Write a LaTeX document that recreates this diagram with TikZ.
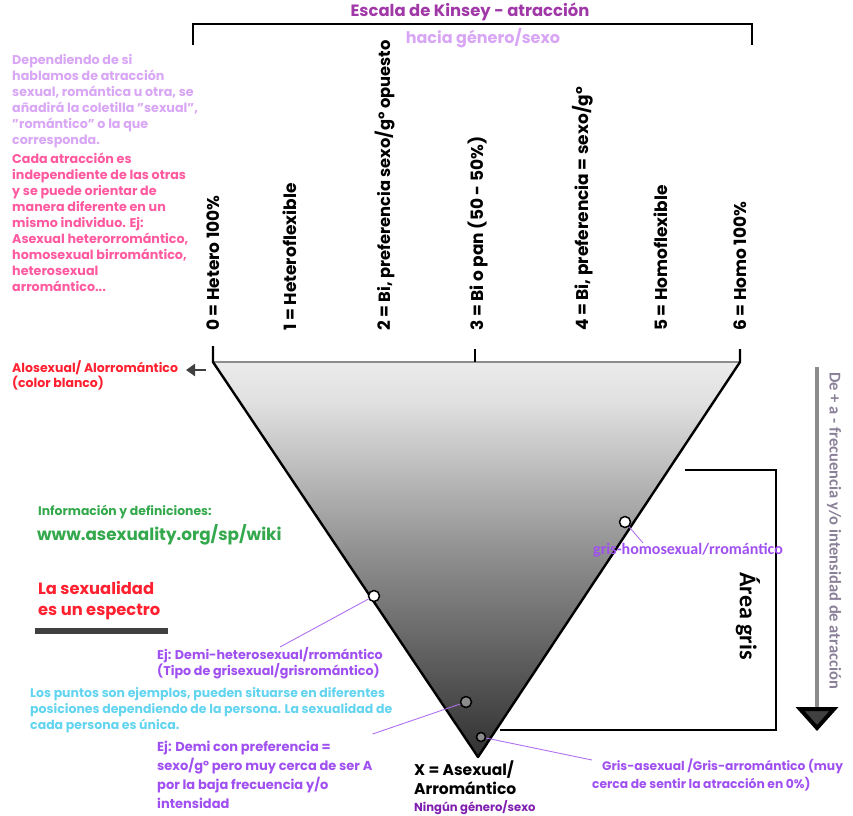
\documentclass[tikz,border=0pt]{standalone}
\usepackage{fontspec}
\setmainfont{Poppins}
\newfontfamily\calib{Carlito}
\usetikzlibrary{arrows.meta}
\definecolor{titlecol}{HTML}{A038A8}
\definecolor{lilac}{HTML}{D8A6F4}
\definecolor{pinkcol}{HTML}{FF5AA0}
\definecolor{greencol}{HTML}{34A84C}
\definecolor{redcol}{HTML}{FF2030}
\definecolor{cyancol}{HTML}{62D4F0}
\definecolor{violet}{HTML}{A050F0}
\definecolor{deepviolet}{HTML}{8020B0}
\definecolor{conncol}{HTML}{B070F0}
\definecolor{arrowtext}{HTML}{8A8098}
\pgfdeclareverticalshading{kinseyfade}{100bp}{color(0bp)=(black); color(14bp)=(black!90); color(27bp)=(black!78); color(50bp)=(black!45); color(70bp)=(black!12); color(85bp)=(white); color(100bp)=(white)}
\tikzset{
	txt/.style={align=left, inner sep=0pt, anchor=north west},
	kin/.style={rotate=90, anchor=west, inner sep=0pt, font=\bfseries\fontsize{17}{19}\selectfont},
	dot/.style={circle, draw=black, line width=1.5pt, minimum size=11pt, inner sep=0pt},
	conn/.style={draw=conncol, line width=0.9pt},
}
\begin{document}
\begin{tikzpicture}[x=1pt, y=-1pt]
	\useasboundingbox (0,0) rectangle (853,815);
	% title and top bracket
	\node[font=\bfseries\fontsize{16.4}{18}\selectfont, text=titlecol] (title) at (470,12) {Escala de Kinsey - atracción};
	\node[font=\bfseries\fontsize{16}{18}\selectfont, text=lilac] (sub) at (483,38) {hacia género/sexo};
	\draw[line width=2.2pt] (193,45) -- (193,24) -- (752,24) -- (752,45);
	% kinsey labels
	\foreach \x/\t [count=\i from 0] in {213/{Hetero 100\%}, 290/{Heteroflexible}, 385/{\fontsize{16.3}{18}\selectfont Bi, preferencia sexo/gº opuesto}, 478/{Bi o pan (50 - 50\%)}, 583/{Bi, preferencia = sexo/gº}, 661/{Homoflexible}, 740/{Homo 100\%}}
		\node[kin] (k\i) at (\x,331) {\i\ = \t};
	% triangle
	\coordinate (tl) at (213,362);
	\coordinate (tr) at (740,362);
	\coordinate (tb) at (478,757);
	\shade[shading=kinseyfade] (tl) -- (tr) -- (tb) -- cycle;
	\draw[line width=1.2pt, black!45] (tl) -- (tr);
	\draw[line width=2.4pt, line join=round] (213,346) -- (tl) -- (tb) -- (tr) -- (740,349);
	\draw[line width=2.4pt] (475,349) -- (475,362);
	% left texts
	\node[txt, text=lilac, font=\bfseries\fontsize{12.7}{16}\selectfont] (dep) at (12,54) {Dependiendo de si\\hablamos de atracción\\sexual, romántica u otra, se\\añadirá la coletilla "sexual",\\"romántico" o la que\\corresponda.};
	\node[txt, text=pinkcol, font=\bfseries\fontsize{12.7}{16}\selectfont] (cada) at (12,153) {Cada atracción es\\independiente de las otras\\y se puede orientar de\\manera diferente en un\\mismo individuo. Ej:\\Asexual heterorromántico,\\homosexual birromántico,\\heterosexual\\arromántico...};
	\node[txt, text=redcol, font=\bfseries\fontsize{12.5}{15}\selectfont] (alo) at (12,360) {Alosexual/ Alorromántico\\(color blanco)};
	\draw[-{Triangle[length=9pt,width=12pt]}, line width=2.8pt, black!75] (206,370) -- (186,370);
	\node[txt, text=greencol, font=\bfseries\fontsize{12.4}{14}\selectfont] (info) at (38,505) {Información y definiciones:};
	\node[txt, text=greencol, font=\bfseries\fontsize{16.8}{19}\selectfont] (url) at (37,524) {www.asexuality.org/sp/wiki};
	\node[txt, text=redcol, font=\bfseries\fontsize{16.3}{21}\selectfont] (espectro) at (38,581) {La sexualidad\\es un espectro};
	\fill[black!75] (35,628) rectangle (168,634);
	% grey area box and arrow
	\draw[line width=2pt] (685,470) -- (776,470) -- (776,730) -- (500,730);
	\node[rotate=-90, font=\calib\bfseries\fontsize{24}{26}\selectfont] (gris) at (748,616) {Área gris};
	\draw[line width=4pt, black!45, -{Triangle[length=24pt,width=42pt,fill=black!75,color=black]}] (817,367) -- (817,731);
	\node[rotate=-90, anchor=west, inner sep=0pt, text=arrowtext, font=\calib\bfseries\fontsize{16.5}{18}\selectfont] (freq) at (834,372) {De + a - frecuencia y/o intensidad de atracción};
	% example points
	\node[dot, fill=white] (dotA) at (374,596) {};
	\node[dot, fill=white] (dotB) at (625,522) {};
	\node[dot, fill=black!45] (dotC) at (466,702) {};
	\node[dot, fill=black!45, minimum size=9pt] (dotD) at (481,737) {};
	\node[txt, text=violet, font=\calib\bfseries\fontsize{16}{18}\selectfont] (grisB) at (593,543) {gris-homosexual/rromántico};
	\node[txt, text=violet, font=\bfseries\fontsize{12.7}{16}\selectfont] (demiA) at (157,647) {Ej: Demi-heterosexual/rromántico\\(Tipo de grisexual/grisromántico)};
	\node[txt, text=cyancol, font=\bfseries\fontsize{12.5}{16}\selectfont] (puntos) at (30,687) {Los puntos son ejemplos, pueden situarse en diferentes\\posiciones dependiendo de la persona. La sexualidad de\\cada persona es única.};
	\node[txt, text=violet, font=\bfseries\fontsize{13}{19}\selectfont] (demiC) at (157,741) {Ej: Demi con preferencia =\\sexo/gº pero muy cerca de ser A\\por la baja frecuencia y/o\\intensidad};
	\node[txt, text=violet, font=\bfseries\fontsize{12.3}{18}\selectfont] (grisD) at (592,759) {\hspace*{10pt}Gris-asexual /Gris-arromántico (muy\\cerca de sentir la atracción en 0\%)};
	\node[txt, font=\bfseries\fontsize{15.5}{19}\selectfont] (asex) at (414,761) {X = Asexual/\\Arromántico};
	\node[txt, text=deepviolet, font=\bfseries\fontsize{11.6}{13}\selectfont] (ningun) at (414,800) {Ningún género/sexo};
	\draw[conn] (dotA) -- ([xshift=10pt]demiA.north);
	\draw[conn] (dotB) -- ([xshift=50pt]grisB.north west);
	\draw[conn] (dotC) -- ([yshift=7pt]demiC.north east);
	\draw[conn] (dotD) -- ([yshift=-1pt]grisD.north west);
\end{tikzpicture}
\end{document}
